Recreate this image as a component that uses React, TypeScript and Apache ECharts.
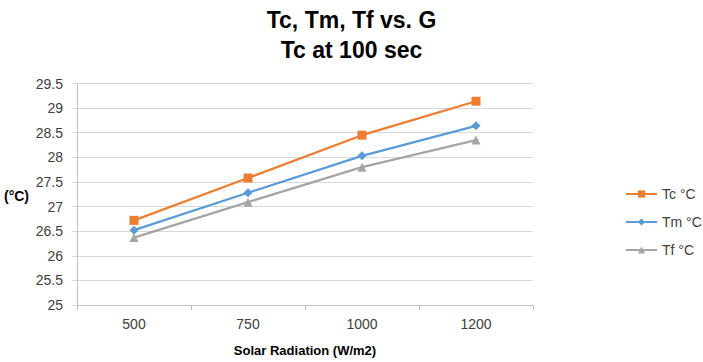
import React, { useEffect, useRef } from "react";
import * as echarts from "echarts";

const categories = ["500", "750", "1000", "1200"];
const tcValues = [26.72, 27.58, 28.45, 29.14];
const tmValues = [26.52, 27.28, 28.03, 28.64];
const tfValues = [26.37, 27.09, 27.8, 28.35];
const titleLines = ["Tc, Tm, Tf vs. G", "Tc at 100 sec"];
const seriesNames = ["Tc °C", "Tm °C", "Tf °C"];

const FONT = "'Liberation Sans', 'DejaVu Sans', sans-serif";

export default function App() {
  const ref = useRef<HTMLDivElement>(null);
  useEffect(() => {
    if (!ref.current) return;
    const chart = echarts.init(ref.current, undefined, { renderer: "svg" });
    const mk = (name: string, data: number[], color: string, symbol: string, size: number) => ({
      name,
      type: "line",
      data,
      symbol,
      symbolSize: size,
      showSymbol: true,
      lineStyle: { color, width: 2.25 },
      itemStyle: { color },
    });
    chart.setOption({
      animation: false,
      backgroundColor: "#ffffff",
      textStyle: { fontFamily: FONT },
      title: {
        text: titleLines.join("\n"),
        left: "center",
        top: 0,
        textStyle: {
          fontFamily: FONT,
          fontSize: 23,
          fontWeight: "bold",
          color: "#000000",
          lineHeight: 30,
        },
      },
      legend: {
        orient: "vertical",
        left: 620,
        top: 181,
        itemGap: 12,
        itemWidth: 31,
        itemHeight: 9,
        textStyle: { fontFamily: FONT, fontSize: 14, color: "#404040", lineHeight: 16 },
        data: seriesNames,
      },
      grid: { left: 77, right: 170, top: 83.5, bottom: 57, containLabel: false },
      xAxis: {
        type: "category",
        data: categories,
        boundaryGap: true,
        name: "Solar Radiation (W/m2)",
        nameLocation: "middle",
        nameGap: 39,
        nameTextStyle: { fontFamily: FONT, fontSize: 13, fontWeight: "bold", color: "#000000" },
        axisLine: { lineStyle: { color: "#BFBFBF", width: 1 } },
        axisTick: { show: true, alignWithLabel: false, length: 5, lineStyle: { color: "#BFBFBF" } },
        axisLabel: { fontFamily: FONT, fontSize: 14, color: "#404040", margin: 12 },
        splitLine: { show: false },
      },
      yAxis: {
        type: "value",
        min: 25,
        max: 29.5,
        interval: 0.5,
        axisLine: { show: true, lineStyle: { color: "#BFBFBF", width: 1 } },
        axisTick: { show: true, length: 5, lineStyle: { color: "#D9D9D9" } },
        axisLabel: { fontFamily: FONT, fontSize: 14, color: "#404040", margin: 14 },
        splitLine: { show: true, lineStyle: { color: "#D9D9D9", width: 1 } },
      },
      graphic: [
        {
          type: "text",
          left: 4,
          top: 189,
          style: { text: "(°C)", font: `bold 14px ${FONT}`, fill: "#000000" },
        },
      ],
      series: [
        mk(seriesNames[0], tcValues, "#ED7D31", "rect", 9),
        mk(seriesNames[1], tmValues, "#5B9BD5", "diamond", 9),
        mk(seriesNames[2], tfValues, "#A5A5A5", "triangle", 9),
      ],
    });
    return () => chart.dispose();
  }, []);
  return (
    <div
      ref={ref}
      style={{ position: "fixed", left: 0, top: 0, width: 703, height: 362 }}
    />
  );
}
